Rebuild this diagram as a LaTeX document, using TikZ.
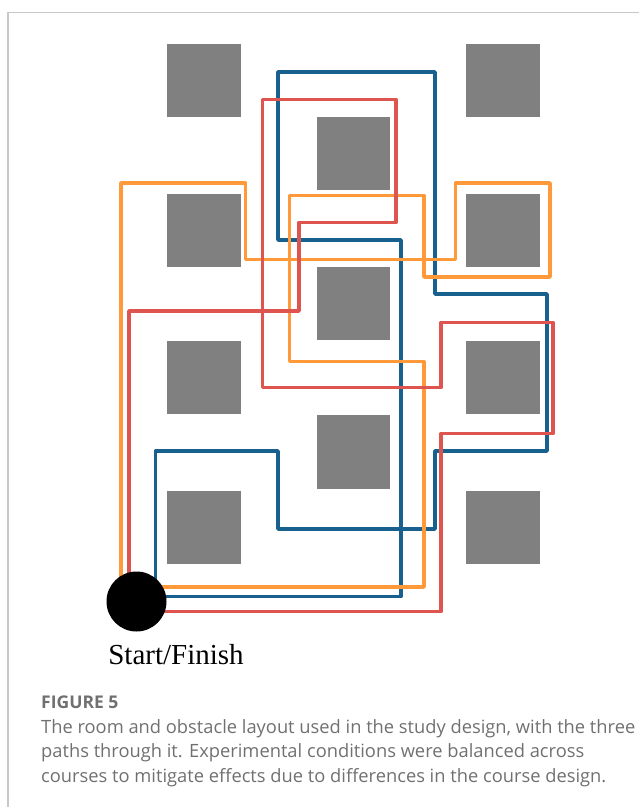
\documentclass[tikz,border=0pt]{standalone}
\usepackage{fontspec}
\setmainfont{Liberation Serif}
\newfontfamily\capfont{Open Sans}
\definecolor{pathorange}{RGB}{255,153,58}
\definecolor{pathred}{RGB}{222,85,80}
\definecolor{pathblue}{RGB}{24,96,142}
\definecolor{obst}{RGB}{128,128,128}
\definecolor{framegray}{RGB}{200,200,200}
\definecolor{capgray}{RGB}{112,112,112}
\tikzset{
  obstacle/.style={fill=obst, draw=none, minimum width=73.5pt, minimum height=73.5pt, inner sep=0pt},
  route/.style={line width=3.8pt, line join=round},
  startnode/.style={circle, fill=black, minimum size=60pt, inner sep=0pt},
  captext/.style={anchor=base west, inner sep=0pt, font=\capfont\fontsize{18.3}{21}\selectfont, text=capgray}
}
\begin{document}
\begin{tikzpicture}[x=1pt,y=-1pt]
\useasboundingbox (0,0) rectangle (639,807);
% frame
\draw[framegray, line width=1.5pt] (8,807) -- (8,12.5) -- (639,12.5);
% obstacles
\node[obstacle] (o11) at (203.75,80.25) {};
\node[obstacle] (o13) at (502.75,80.25) {};
\node[obstacle] (o22) at (353.25,153.3) {};
\node[obstacle] (o31) at (203.75,230.7) {};
\node[obstacle] (o33) at (502.75,230.7) {};
\node[obstacle] (o42) at (353.25,303.3) {};
\node[obstacle] (o51) at (203.75,377.3) {};
\node[obstacle] (o53) at (502.75,377.3) {};
\node[obstacle] (o62) at (353.25,451.8) {};
\node[obstacle] (o71) at (203.75,527.3) {};
\node[obstacle] (o73) at (502.75,527.3) {};
% blue route
\draw[route, pathblue] (155.5,596.5) -- (155.5,451) -- (278,451) -- (278,529) -- (435,529) -- (435,451) -- (547,451) -- (547,294) -- (435,294) -- (435,72) -- (278,72) -- (278,240) -- (401,240) -- (401,596.5) -- cycle;
% orange route
\draw[route, pathorange] (121,587) -- (121,183) -- (245.5,183) -- (245.5,259.5) -- (455.5,259.5) -- (455.5,183) -- (550,183) -- (550,277) -- (424,277) -- (424,195.5) -- (289.5,195.5) -- (289.5,361.5) -- (424,361.5) -- (424,587) -- cycle;
% red route
\draw[route, pathred] (129,611.5) -- (129,311) -- (299,311) -- (299,222.5) -- (396,222.5) -- (396,99.5) -- (262.5,99.5) -- (262.5,387.5) -- (441,387.5) -- (441,322.5) -- (553,322.5) -- (553,433.5) -- (441,433.5) -- (441,611.5) -- cycle;
% start/finish
\node[startnode] (start) at (136.5,601.5) {};
\node[anchor=base, inner sep=0pt, font=\fontsize{29}{33}\selectfont] (label) at (176,664) {Start/Finish};
% caption
\node[captext, font=\capfont\bfseries\fontsize{17.5}{20}\selectfont] (fig) at (41,708.5) {FIGURE 5};
\node[captext] (c1) at (41,733) {The room and obstacle layout used in the study design, with the three};
\node[captext] (c2) at (41,757.5) {paths through it. Experimental conditions were balanced across};
\node[captext] (c3) at (41,782) {courses to mitigate effects due to differences in the course design.};
\end{tikzpicture}
\end{document}
